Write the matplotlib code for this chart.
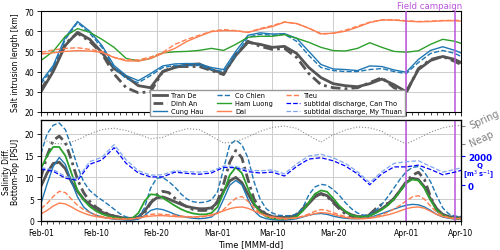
import numpy as np
import pandas as pd
import matplotlib
matplotlib.use("Agg")
import matplotlib.pyplot as plt
import matplotlib.dates as mdates

start = pd.Timestamp("2020-02-01")

# --- salt intrusion length [km], every 2nd day ---
days_top = list(range(0, 69, 2)) + [69]
tran_de_L = [30, 40, 53, 59.5, 56, 49.5, 41.5, 37.5, 33, 32, 40, 42, 43.5, 43.8, 41, 39, 48, 54.5,
             53.5, 52, 52.5, 49, 42, 37, 34, 33, 32.5, 34, 36.3, 33.5, 30, 41, 45.5, 47.5, 46, 44.5]
dinh_an_L = [31, 41, 54, 59, 55, 49, 38.8, 32, 29.5, 30, 40, 42.5, 42.5, 42.5, 40.5, 38.5, 48.5, 55,
             52.5, 51, 51.5, 47, 39, 33.5, 32, 31.5, 32, 34.5, 37, 32, 29.5, 41.5, 46, 47.5, 45, 43.5]
cung_hau_L = [35, 43, 57, 64.8, 60, 53, 43, 38, 35.5, 39, 42.8, 43.8, 44, 43.8, 42, 41, 50, 58,
              59.2, 58.6, 58.8, 56.5, 50, 43.5, 41.3, 41, 40.5, 42.8, 42.5, 40.8, 39.7, 46, 50.5, 52.3, 50.5, 49.2]
co_chien_L = [34, 42, 56, 64.3, 59, 52, 42, 36.5, 34.5, 38, 42, 43, 43, 43, 41, 40, 48, 57,
              58.5, 58, 58.5, 55, 48, 42, 40.5, 40, 40, 41, 41.5, 40, 39, 44.5, 49, 50.5, 49, 47.5]
ham_luong_L = [45.5, 50, 57.5, 61.3, 59.5, 56, 52, 46.5, 45.3, 46.5, 49.3, 49.8, 50, 50.5, 51.5, 50.5, 53.5, 57,
               57.5, 57.5, 58.3, 56.5, 54.5, 52, 50.4, 50.2, 51.5, 54.3, 52, 50, 49.6, 50.3, 53.5, 56, 55, 54]
dai_L = [48.7, 49.3, 50, 50.4, 50.2, 49.5, 47, 45.3, 45.2, 46.5, 49, 51.5, 55, 57.5, 59.8, 60.3, 60.2, 59.4,
         61, 62.3, 64.5, 63.8, 61.5, 58.8, 59, 60, 62, 64.3, 65.6, 65.5, 65, 64.7, 64.8, 65.2, 65.2, 65]
tieu_L = [49.5, 50.7, 51.5, 51.8, 51, 50, 47, 45.8, 45.8, 47.2, 49.5, 53.5, 56, 58, 60, 60.8, 60.3, 59.5,
          61.3, 62.8, 64.6, 63.8, 61.5, 58.5, 59, 60.5, 62.5, 64.5, 65.6, 65.7, 65.2, 64.8, 65, 65.3, 65.4, 65.3]

# --- tidal range indicator (spring/neap), discharge [m3/s] ---
tide = [18.9, 17.8, 17.7, 18.6, 20, 21, 21.3, 20.8, 19.9, 18.9, 19.2, 20.4, 21.2, 21, 19.5, 17.9, 18.2, 19.3,
        20.6, 21.5, 21.8, 21.3, 19.6, 18.1, 19.8, 20.9, 21.6, 21.4, 20.6, 19, 17.7, 19, 20.4, 21.4, 21.9, 21.9]
q_can_tho = [1116, 966, 485, 335, 1447, 1748, 2590, 1507, 846, 575, 575, 906, 816, 756, 846, 1237, 1207, 936,
             846, 906, 635, 1297, 1808, 1898, 1688, 1327, 786, 34, 786, 1267, 1267, 1387, 1086, 725, 906, 1026]
q_my_thuan = [1207, 1086, 605, 455, 1628, 1928, 2800, 1748, 996, 695, 725, 996, 936, 906, 966, 1327, 1297, 1056,
              996, 1056, 786, 1477, 2018, 2139, 1898, 1507, 936, 184, 936, 1507, 1628, 1688, 1297, 906, 1086, 1207]

# --- salinity difference bottom-top [PSU], daily ---
days_bot = list(range(70))
co_chien_S = [15.5, 20, 22, 22.5, 21, 17, 12.5, 9, 7, 5.8, 4.8, 3.8, 2.7, 1.6, 0.9, 0.6, 0.8, 3, 7.5, 9.8,
              10, 9, 7.8, 6.2, 5, 4.4, 4.2, 4.3, 4.8, 6.7, 12, 17.5, 18.6, 17.5, 14.5, 9, 5, 2.8, 1.8, 1.3,
              1.2, 1.2, 1.6, 3, 6, 7.8, 8.4, 8.2, 7.2, 5.9, 4.2, 2.8, 1.8, 1.3, 1.4, 2.4, 3.8, 5.6, 7.6, 9.6,
              11.3, 12.3, 12.5, 11.2, 9, 5.8, 3, 1.6, 1.1, 1]
dinh_an_S = [10, 15, 18.5, 19.5, 18, 14, 9.5, 6.5, 4.5, 3.2, 2.3, 1.6, 1.1, 0.8, 0.6, 0.5, 0.7, 1.8, 4, 6,
             6.8, 6.5, 5.2, 4, 3.2, 2.6, 2.4, 2.4, 2.7, 4.5, 8.5, 13.5, 16.2, 14.5, 9.5, 5, 2.8, 1.5, 1, 0.8,
             0.8, 1, 1.5, 2.8, 4.2, 5.8, 6.2, 5.6, 4.2, 2.8, 1.6, 1, 0.8, 0.9, 1.5, 2.8, 3.8, 4, 5, 7,
             9, 10.5, 11.2, 9.5, 5.5, 2.5, 1.2, 0.8, 0.6, 0.6]
tran_de_S = [8, 11, 13.2, 13.5, 12, 9, 6.8, 5, 3.8, 2.8, 2, 1.5, 1.1, 0.8, 0.6, 0.6, 0.9, 2.2, 4.2, 5.3,
             5.5, 5, 4.4, 3.8, 3.3, 3, 2.8, 2.8, 3, 4.2, 6.8, 9.2, 10, 8.8, 6.2, 3.8, 2.4, 1.5, 1, 0.8,
             0.8, 0.9, 1.3, 2.5, 4, 5.5, 6.3, 5.8, 4.5, 3.2, 2.1, 1.4, 1, 1, 1.3, 2, 2.8, 3.8, 5.2, 7,
             8.8, 9.8, 9.5, 7.8, 5, 2.8, 1.5, 1, 0.8, 0.7]
ham_luong_S = [12, 15, 17, 17, 15, 11, 7, 4.8, 3.3, 2.3, 1.6, 1.1, 0.8, 0.6, 0.5, 0.6, 1.8, 4.5, 6.1, 6,
               5.3, 4.4, 3.5, 2.7, 2.1, 1.7, 1.5, 1.5, 1.8, 3.2, 6.5, 10.5, 12.3, 11, 7.5, 4, 2, 1, 0.6, 0.5,
               0.5, 0.6, 1, 2.3, 4.3, 6.2, 7, 6.7, 5.2, 3.5, 2.2, 1.3, 1, 0.9, 1.2, 1.8, 2.6, 3.6, 5, 6.8,
               8.8, 9.5, 9.3, 7.5, 4.8, 2.5, 1.3, 0.8, 0.6, 0.5]
cung_hau_S = [4, 8.5, 12.5, 14.6, 13, 9, 5.5, 3.2, 2, 1.3, 0.9, 0.6, 0.4, 0.3, 0.2, 0.2, 0.4, 1.2, 2.4, 2.8,
              2.6, 2.1, 1.5, 1.1, 0.8, 0.6, 0.5, 0.6, 0.9, 2, 5, 8.2, 9.3, 8.3, 5, 2.3, 1, 0.5, 0.3, 0.2,
              0.2, 0.3, 0.5, 0.9, 1.3, 1.6, 1.7, 1.5, 1.1, 0.8, 0.6, 0.5, 0.5, 0.6, 0.8, 1.2, 1.7, 2.2, 2.7, 3.2,
              3.6, 3.8, 3.7, 3.2, 2.4, 1.5, 0.9, 0.6, 0.5, 0.5]
tieu_S = [2.8, 4, 5.6, 6.8, 6.5, 5, 3.6, 2.6, 1.9, 1.4, 1, 0.8, 0.6, 0.5, 0.4, 0.5, 0.7, 1.1, 1.5, 1.6,
          1.5, 1.4, 1.3, 1.1, 1, 0.9, 0.9, 1, 1.2, 1.7, 2.6, 4, 5.2, 5.6, 4.5, 3, 1.8, 1.1, 0.7, 0.5,
          0.4, 0.5, 0.7, 1.1, 1.6, 2.2, 2.6, 2.4, 1.9, 1.4, 1, 0.7, 0.6, 0.6, 0.7, 1, 1.4, 2, 2.7, 3.6,
          4.6, 5.5, 5.8, 5, 3.4, 2, 1.2, 0.8, 0.6, 0.6]
dai_S = [1.6, 2.4, 3.4, 4.1, 3.9, 3.2, 2.4, 1.8, 1.3, 1, 0.8, 0.6, 0.5, 0.4, 0.4, 0.5, 0.6, 0.9, 1.1, 1.2,
         1.2, 1.1, 1, 0.9, 0.9, 0.9, 1, 1.1, 1.4, 1.8, 2.3, 2.8, 3.1, 3.2, 2.9, 2.3, 1.7, 1.2, 0.9, 0.7,
         0.6, 0.6, 0.7, 1, 1.3, 1.7, 1.9, 1.8, 1.5, 1.1, 0.8, 0.6, 0.5, 0.5, 0.6, 0.8, 1.1, 1.4, 1.8, 2.3,
         2.8, 3.1, 3.2, 2.9, 2.2, 1.5, 1, 0.7, 0.5, 0.5]

campaign = ["2020-04-01", "2020-04-09"]

t_top = start + pd.to_timedelta(days_top, unit="D")
t_bot = start + pd.to_timedelta(days_bot, unit="D")

gray = "#555555"
blue = "#1f77b4"
green = "#2ca02c"
coral = "#ff7f50"
purple = "#bb55dd"
dashdot = (0, (3.5, 1.5, 1, 1.5))

plt.rcParams["font.size"] = 5.5
fig, (ax1, ax2) = plt.subplots(2, 1, sharex=True, figsize=(5, 2.51), dpi=100)
fig.subplots_adjust(left=0.082, right=0.922, top=0.952, bottom=0.116, hspace=0.08)

# top panel
ax1.plot(t_top, tran_de_L, color=gray, lw=2, label="Tran De")
ax1.plot(t_top, dinh_an_L, color=gray, lw=2, ls=dashdot, label="Dinh An")
ax1.plot(t_top, cung_hau_L, color=blue, lw=1, label="Cung Hau")
ax1.plot(t_top, co_chien_L, color=blue, lw=1, ls="--", label="Co Chien")
ax1.plot(t_top, ham_luong_L, color=green, lw=1, label="Ham Luong")
ax1.plot(t_top, dai_L, color=coral, lw=1, label="Dai")
ax1.plot(t_top, tieu_L, color=coral, lw=1, ls="--", label="Tieu")
ax1.set_ylim(20, 70)
ax1.set_ylabel("Salt intrusion length [km]", fontsize=5.5, labelpad=3)
ax1.grid(True, color="#cccccc", lw=0.7)

# bottom panel
ax2.plot(t_bot, tran_de_S, color=gray, lw=2)
ax2.plot(t_bot, dinh_an_S, color=gray, lw=2, ls=dashdot)
ax2.plot(t_bot, cung_hau_S, color=blue, lw=1)
ax2.plot(t_bot, co_chien_S, color=blue, lw=1, ls="--")
ax2.plot(t_bot, ham_luong_S, color=green, lw=1.3)
ax2.plot(t_bot, dai_S, color=coral, lw=1)
ax2.plot(t_bot, tieu_S, color=coral, lw=1, ls="--")
ax2.set_ylim(0, 23.2)
ax2.set_yticks([0, 5, 10, 15, 20])
ax2.set_ylabel("Salinity Diff.\nBottom-Top [PSU]", fontsize=5.5, labelpad=3, linespacing=1.1)
ax2.set_xlabel("Time [MMM-dd]", fontsize=6, labelpad=1.5)
ax2.grid(True, color="#cccccc", lw=0.7)

# spring / neap indicator
ax3 = ax2.twinx()
ax3.plot(t_top, tide, color="0.55", lw=0.8, ls=":")
ax3.set_ylim(ax2.get_ylim())
ax3.set_yticks([max(tide), min(tide)])
ax3.set_yticklabels(["Spring", "Neap"], rotation=25, color="0.5", fontsize=7,
                    rotation_mode="anchor", ha="left", va="center")
ax3.tick_params(axis="y", colors="0.5", length=3)

# discharge
ax4 = ax2.twinx()
ax4.plot(t_top, q_can_tho, color="blue", lw=0.9, ls="--", label="subtidal discharge, Can Tho")
ax4.plot(t_top, q_my_thuan, color="#7ea6f0", lw=0.9, ls="--", label="subtidal discharge, My Thuan")
ax4.set_ylim(-2462, 4504)
ax4.set_yticks([0, 2000])
ax4.tick_params(axis="y", colors="blue", length=3, labelsize=6.3, pad=2)
for lab in ax4.get_yticklabels():
    lab.set_fontweight("bold")
ax4.text(1.044, 0.555, "Q", transform=ax4.transAxes, color="blue",
         fontsize=5, fontweight="bold", ha="center", va="center")
ax4.text(1.041, 0.465, "[m$^3$ s$^{-1}$]", transform=ax4.transAxes, color="blue",
         fontsize=4.8, fontweight="bold", ha="center", va="center")

# field campaign
for d in campaign:
    for ax in (ax1, ax2):
        ax.axvline(pd.Timestamp(d), color=purple, lw=1.1, zorder=5)
ax1.text(0.925, 1.01, "Field campaign", transform=ax1.transAxes, color=purple,
         fontsize=6.2, ha="center", va="bottom")

ax2.set_xlim(start, pd.Timestamp("2020-04-10"))
ax2.xaxis.set_major_locator(mdates.DayLocator(bymonthday=[1, 10, 20]))
ax2.xaxis.set_minor_locator(mdates.DayLocator())
ax2.xaxis.set_major_formatter(mdates.DateFormatter("%b-%d"))
for ax in (ax1, ax2):
    ax.tick_params(axis="both", labelsize=5.5, length=3, width=0.6, pad=2)
    ax.tick_params(axis="x", which="minor", length=1.8, width=0.5)

h1, l1 = ax1.get_legend_handles_labels()
h4, l4 = ax4.get_legend_handles_labels()
fig.legend(h1 + h4, l1 + l4, ncol=3, loc="upper left", bbox_to_anchor=(0.294, 0.652),
           fontsize=4.8, handlelength=2.1, handletextpad=0.7, columnspacing=1.9,
           labelspacing=0.3, borderpad=0.35, framealpha=1, edgecolor="#999999", fancybox=False)

fig.savefig("out.png", dpi=100)
